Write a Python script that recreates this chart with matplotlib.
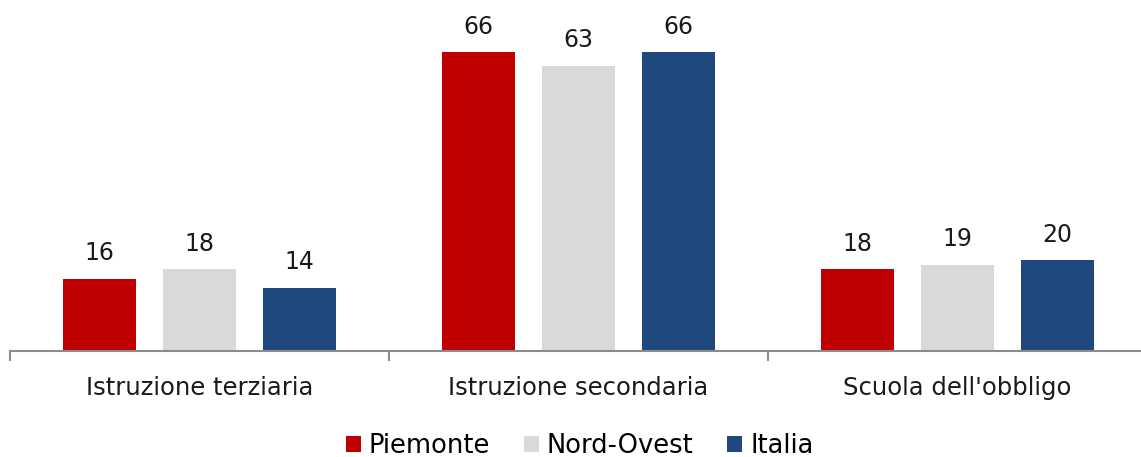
import matplotlib.pyplot as plt
import numpy as np

categories = ["Istruzione terziaria", "Istruzione secondaria", "Scuola dell'obbligo"]
series = ["Piemonte", "Nord-Ovest", "Italia"]
piemonte = [16, 66, 18]
nord_ovest = [18, 63, 19]
italia = [14, 66, 20]

colors = ["#C00000", "#D9D9D9", "#1F497D"]
plt.rcParams['font.family'] = ['DejaVu Sans']

fig = plt.figure(figsize=(11.41, 4.57), dpi=100)
ax = fig.add_axes([10/1141, 106/457, 1137/1141, 317/457])

x = np.arange(len(categories))
width = 0.193
step = 0.264
for k, (name, vals) in enumerate(zip(series, [piemonte, nord_ovest, italia])):
    pos = x + (k - 1) * step
    ax.bar(pos, vals, width, color=colors[k], label=name)
    for p, v in zip(pos, vals):
        ax.text(p, v + 3.0, str(v), ha="center", va="bottom", fontsize=17, color="#1a1a1a")

ax.set_xlim(-0.5, 2.5)
ax.set_ylim(0, 70)
ax.set_yticks([])
for s in ["top", "right", "left"]:
    ax.spines[s].set_visible(False)
ax.spines["bottom"].set_color("#8c8c8c")
ax.spines["bottom"].set_linewidth(1.5)
ax.set_xticks(x)
ax.set_xticklabels(categories, fontsize=17.5, color="#1a1a1a")
ax.tick_params(axis="x", which="major", length=0, pad=18)
ax.set_xticks([-0.5, 0.5, 1.5, 2.5], minor=True)
ax.tick_params(axis="x", which="minor", length=7.5, width=1.5, color="#8c8c8c")

fig.legend(loc="lower center", bbox_to_anchor=(0.508, -0.055), ncol=3, frameon=False,
           fontsize=18.5, handlelength=0.6, handleheight=0.6, handletextpad=0.3,
           columnspacing=1.3)

fig.savefig("out.png", dpi=100)
